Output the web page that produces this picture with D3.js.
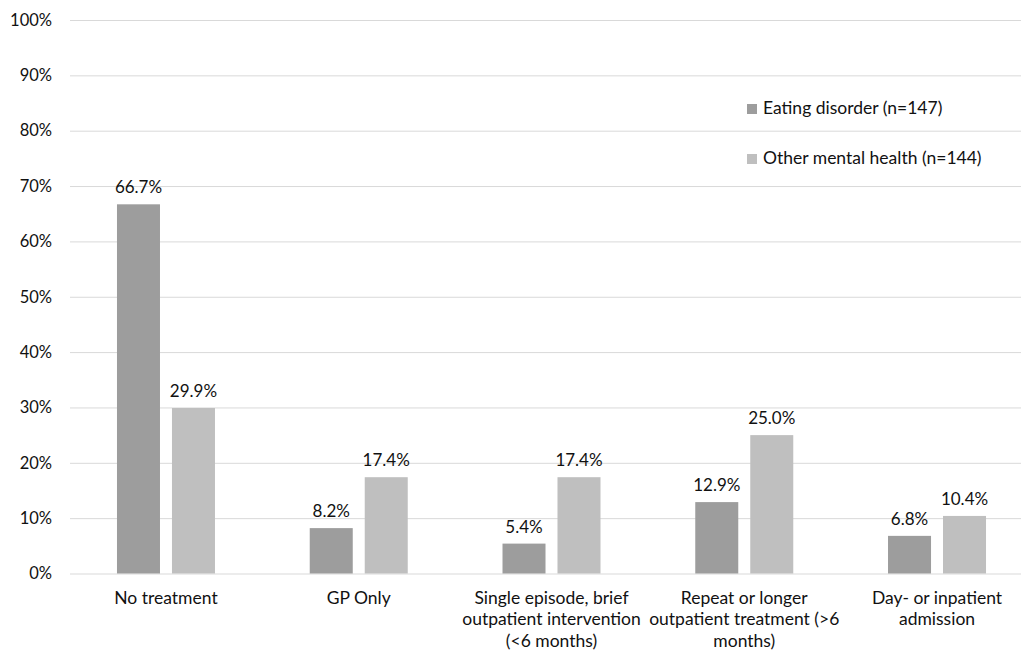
<!DOCTYPE html>
<html>
<head>
<meta charset="utf-8">
<script src="https://cdn.jsdelivr.net/npm/d3@7"></script>
<style>
  body { margin: 0; background: #fff; }
  svg { display: block; font-family: Lato, "Open Sans", sans-serif; }
</style>
</head>
<body>
<div id="wrapper"></div>
<script>
// chart values
const categories = [
    "No treatment",
    "GP Only",
    "Single episode, brief\noutpatient intervention\n(<6 months)",
    "Repeat or longer\noutpatient treatment (>6\nmonths)",
    "Day- or inpatient\nadmission"
];
const seriesNames = ["Eating disorder (n=147)", "Other mental health (n=144)"];
const eatingDisorder = [66.7, 8.2, 5.4, 12.9, 6.8];
const otherMental = [29.9, 17.4, 17.4, 25.0, 10.4];
const yTicks = [0, 10, 20, 30, 40, 50, 60, 70, 80, 90, 100];
const colors = ["#9d9d9d", "#bfbfbf"];

const dimension = { width: 1021, height: 652 };

const svg = d3.select("#wrapper").append("svg")
    .attr("width", dimension.width)
    .attr("height", dimension.height);

const scaleY = d3.scaleLinear()
    .domain([0, 100])
    .range([573.5, 20]);

const scaleX = d3.scaleBand()
    .domain(categories)
    .range([69.6, 1033.4])
    .padding(0);

const groupWidth = 98;
const scaleSeries = d3.scaleBand()
    .domain(seriesNames)
    .range([0, groupWidth])
    .paddingInner(0.218)
    .paddingOuter(0);

// gridlines + y labels
const yAxis = svg.append("g")
    .attr("transform", "translate(70,0)")
    .call(d3.axisLeft(scaleY)
        .tickValues(yTicks)
        .tickSize(-960)
        .tickPadding(18)
        .tickFormat(d => d + "%"));
yAxis.select(".domain").remove();
yAxis.selectAll(".tick line").attr("stroke", "#d9d9d9").attr("stroke-width", 1);
yAxis.selectAll(".tick text")
    .attr("font-size", "16.5px")
    .attr("font-family", "Lato, sans-serif")
    .attr("fill", "#111");

const rows = categories.map((c, i) => ({
    category: c,
    values: [eatingDisorder[i], otherMental[i]]
}));

const groups = svg.append("g").selectAll("g")
    .data(rows)
    .join("g")
    .attr("transform", d => `translate(${scaleX(d.category) + (scaleX.bandwidth() - groupWidth) / 2},0)`);

groups.selectAll("rect")
    .data(d => d.values.map((v, j) => ({ key: seriesNames[j], value: v, j: j })))
    .join("rect")
    .attr("x", d => scaleSeries(d.key))
    .attr("y", d => scaleY(d.value))
    .attr("width", scaleSeries.bandwidth())
    .attr("height", d => scaleY(0) - scaleY(d.value))
    .attr("fill", d => colors[d.j]);

groups.selectAll("text.val")
    .data(d => d.values.map((v, j) => ({ key: seriesNames[j], value: v })))
    .join("text")
    .attr("class", "val")
    .attr("x", d => scaleSeries(d.key) + scaleSeries.bandwidth() / 2)
    .attr("y", d => scaleY(d.value) - 11)
    .attr("text-anchor", "middle")
    .attr("font-size", "17px")
    .attr("fill", "#111")
    .text(d => d.value.toFixed(1) + "%");

// category labels, line breaks as in the reference
const catLabels = svg.append("g").selectAll("text")
    .data(categories)
    .join("text")
    .attr("x", d => scaleX(d) + scaleX.bandwidth() / 2)
    .attr("y", 603.5)
    .attr("text-anchor", "middle")
    .attr("font-size", "17.5px")
    .attr("fill", "#111");
catLabels.selectAll("tspan")
    .data(d => d.split("\n"))
    .join("tspan")
    .attr("x", function() { return this.parentNode.getAttribute("x"); })
    .attr("dy", (d, i) => i === 0 ? 0 : 21.5)
    .text(d => d);

// legend
const legend = svg.append("g")
    .selectAll("g")
    .data(seriesNames)
    .join("g")
    .attr("transform", (d, i) => `translate(747,${104 + i * 50})`);
legend.append("rect")
    .attr("width", 10)
    .attr("height", 10)
    .attr("fill", (d, i) => colors[i]);
legend.append("text")
    .attr("x", 16)
    .attr("y", 10)
    .attr("font-size", "17.5px")
    .attr("fill", "#111")
    .text(d => d);
</script>
</body>
</html>
